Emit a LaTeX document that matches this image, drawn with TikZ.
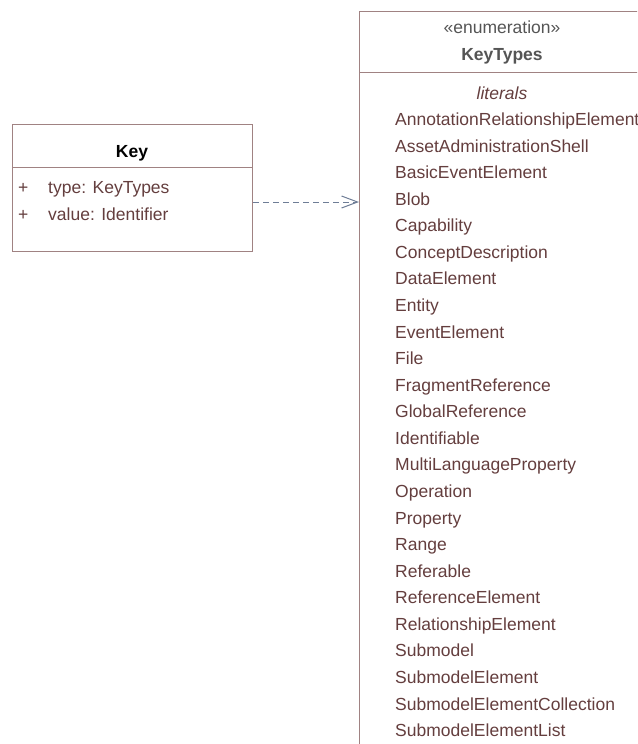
\documentclass[tikz,border=0pt]{standalone}
\usepackage{fontspec}
\setmainfont{Liberation Sans}
\usetikzlibrary{arrows.meta,positioning}
\definecolor{umlborder}{RGB}{160,130,130}
\definecolor{umltext}{RGB}{100,62,62}
\definecolor{umlhead}{RGB}{85,85,85}
\definecolor{umldep}{RGB}{110,125,150}
\tikzset{
    umlbox/.style={draw=umlborder,line width=1pt,inner sep=0pt,anchor=north west},
    umlline/.style={draw=umlborder,line width=1pt},
    literal/.style={anchor=base west,inner sep=0pt,text=umltext},
    umldependency/.style={draw=umldep,line width=1pt,dash pattern=on 6pt off 4pt,
        -{Straight Barb[length=16pt,width=12pt,line width=1pt]}},
}
\begin{document}
\begin{tikzpicture}[x=1pt,y=-1pt,font=\fontsize{17.5}{21}\selectfont]
    \clip (0,0) rectangle (637,744); %画像の範囲
    % Key クラス
    \node[umlbox,minimum width=240pt,minimum height=127pt] (key) at (12,124) {};
    \draw[umlline] (12,167) -- (252,167); %区切り線
    \node[anchor=base,inner sep=0pt,font=\fontsize{17.5}{21}\selectfont\bfseries] (keyname) at (132,157) {Key};
    \node[literal,anchor=base west] (plus1) at (18,193) {+};
    \node[literal] (attrtype) at (48,193) {type: KeyTypes};
    \node[literal,anchor=base west] (plus2) at (18,220) {+};
    \node[literal] (attrvalue) at (48,220) {value: Identifier};
    % KeyTypes 列挙型
    \node[umlbox,minimum width=286pt,minimum height=760pt] (keytypes) at (359,11) {};
    \draw[umlline] (359,72) -- (645,72); %区切り線
    \node[anchor=base,inner sep=0pt,text=umlhead] (stereo) at (502,33) {«enumeration»};
    \node[anchor=base,inner sep=0pt,text=umlhead,font=\fontsize{17.5}{21}\selectfont\bfseries] (enumname) at (502,60) {KeyTypes};
    \node[anchor=base,inner sep=0pt,text=umltext,font=\fontsize{17.5}{21}\selectfont\itshape] (literals) at (502,99) {literals};
    \foreach \lit [count=\i from 0] in {AnnotationRelationshipElement,AssetAdministrationShell,
        BasicEventElement,Blob,Capability,ConceptDescription,DataElement,Entity,EventElement,
        File,FragmentReference,GlobalReference,Identifiable,MultiLanguageProperty,Operation,
        Property,Range,Referable,ReferenceElement,RelationshipElement,Submodel,
        SubmodelElement,SubmodelElementCollection,SubmodelElementList}
        \node[literal] (lit\i) at (395,{125.5+\i*26.57}) {\lit};
    % 依存関係
    \coordinate (deplevel) at (0,202);
    \draw[umldependency] (key.east |- deplevel) -- (keytypes.west |- deplevel);
\end{tikzpicture}
\end{document}
